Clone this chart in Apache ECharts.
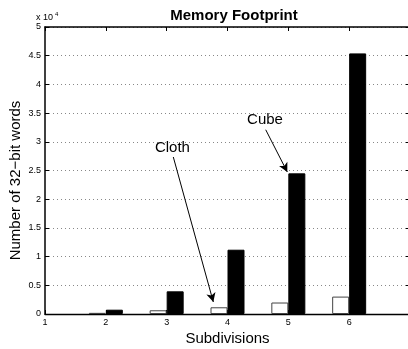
<!DOCTYPE html>
<html><head><meta charset="utf-8">
<script src="https://cdn.jsdelivr.net/npm/echarts@6/dist/echarts.min.js"></script>
<style>html,body{margin:0;padding:0;background:#fff}#c{width:408px;height:349px}</style>
</head><body><div id="c"></div>
<script>
const subdivisions = [2, 3, 4, 5, 6];
const clothWords = [200, 650, 1170, 2000, 3030];
const cubeWords = [750, 3950, 11200, 24500, 45400];
// annotation anchors in data coordinates [x, y]
const clothLabel = [3.095, 28900];
const clothArrow = [[3.109, 27350], [3.767, 2090]];
const cubeLabel = [4.617, 33750];
const cubeArrow = [[4.628, 32100], [4.983, 24740]];

const font = 'Liberation Sans, Arial, Helvetica, sans-serif';
const chart = echarts.init(document.getElementById('c'));
const pairs = (xs, ys) => xs.map((x, i) => [x, ys[i]]);
const arrowStyle = {silent: true, symbol: ['none', 'arrow'], symbolSize: [7, 9],
  lineStyle: {color: '#000', width: 1, type: 'solid'}, label: {show: false}};
const noteLabel = txt => ({show: true, position: 'inside', formatter: txt,
  fontFamily: font, fontSize: 15, color: '#000'});
chart.setOption({
  animation: false,
  title: {text: 'Memory Footprint', left: 229, top: 3, textAlign: 'center',
    textStyle: {fontFamily: font, fontSize: 15, fontWeight: 'bold', color: '#000'}},
  grid: {left: 45, top: 27, width: 365, height: 287, outerBoundsMode: 'none', containLabel: false},
  xAxis: [{
    type: 'value', min: 1, max: 7, interval: 1, position: 'bottom',
    name: 'Subdivisions', nameLocation: 'middle', nameGap: 17, nameMoveOverlap: false,
    nameTextStyle: {fontFamily: font, fontSize: 15, color: '#000'},
    axisLine: {onZero: false, lineStyle: {color: '#000', width: 1.3}},
    axisTick: {show: true, inside: true, length: 4, lineStyle: {color: '#000'}},
    axisLabel: {fontFamily: font, fontSize: 9, color: '#000', margin: 4,
      formatter: v => (v >= 7 ? '' : String(v))},
    splitLine: {show: false}
  }, {
    type: 'value', min: 1, max: 7, interval: 1, position: 'top',
    axisLine: {onZero: false, lineStyle: {color: '#000', width: 1.5}},
    axisTick: {show: true, inside: true, length: 4, lineStyle: {color: '#000'}},
    axisLabel: {show: false}, splitLine: {show: false}
  }],
  yAxis: [{
    type: 'value', min: 0, max: 50000, interval: 5000, position: 'left',
    name: 'Number of 32\u2212bit words', nameLocation: 'middle', nameGap: 22, nameMoveOverlap: false,
    nameTextStyle: {fontFamily: font, fontSize: 15, color: '#000', padding: [0, 20, 0, 0]},
    axisLine: {show: true, onZero: false, lineStyle: {color: '#000', width: 1.5}},
    axisTick: {show: true, inside: true, length: 4, lineStyle: {color: '#000'}},
    axisLabel: {fontFamily: font, fontSize: 9, color: '#000', margin: 4,
      formatter: v => String(v / 10000)},
    splitLine: {show: true, lineStyle: {color: '#888', type: [1, 3], width: 1}}
  }, {
    type: 'value', min: 0, max: 50000, interval: 5000, position: 'right',
    axisLine: {show: true, onZero: false, lineStyle: {color: '#000'}},
    axisTick: {show: true, inside: true, length: 4, lineStyle: {color: '#000'}},
    axisLabel: {show: false}, splitLine: {show: false}
  }],
  graphic: [{type: 'text', left: 36, top: 13,
    style: {text: 'x 10', font: '9px ' + font, fill: '#000'}},
    {type: 'text', left: 55, top: 11, style: {text: '4', font: '6px ' + font, fill: '#000'}}],
  series: [{
    name: 'Cloth', type: 'bar', data: pairs(subdivisions, clothWords),
    barWidth: 17, barGap: '0%',
    itemStyle: {color: '#fff', borderColor: '#444', borderWidth: 1}
  }, {
    name: 'Cube', type: 'bar', data: pairs(subdivisions, cubeWords),
    barWidth: 17, barGap: '0%',
    itemStyle: {color: '#000', borderColor: '#000', borderWidth: 1}
  }, {
    name: 'notes', type: 'line', data: [], silent: true,
    markLine: Object.assign({}, arrowStyle, {data: [
      [{coord: clothArrow[0]}, {coord: clothArrow[1]}],
      [{coord: cubeArrow[0]}, {coord: cubeArrow[1]}]]}),
    markPoint: {symbol: 'circle', symbolSize: 0, data: [
      {coord: clothLabel, label: noteLabel('Cloth')},
      {coord: cubeLabel, label: noteLabel('Cube')}]}
  }]
});
</script></body></html>
